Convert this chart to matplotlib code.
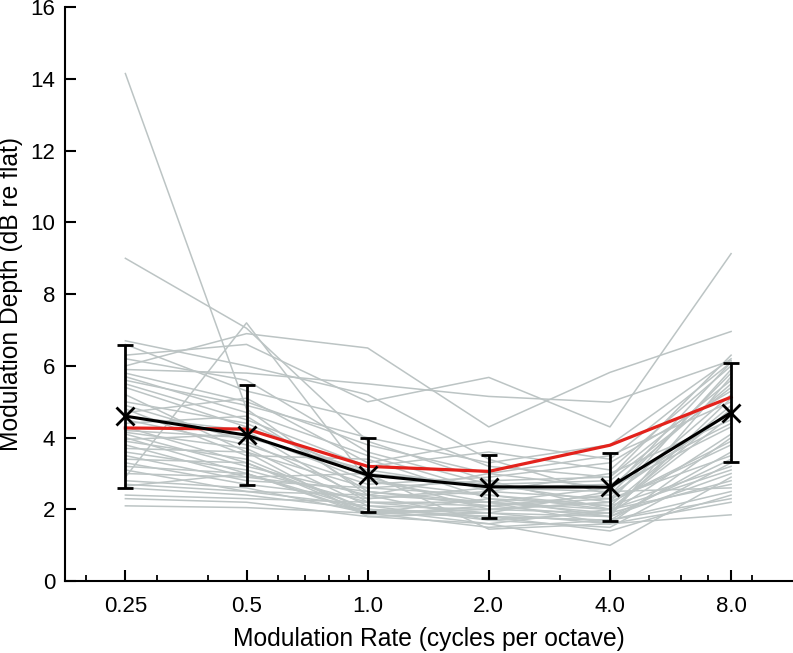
# modulation depth vs modulation rate: individual listeners plus summary lines

import matplotlib.pyplot as plt
from matplotlib.ticker import FixedLocator, LogLocator, NullFormatter
import numpy as np

plt.rcParams['font.family'] = ['Liberation Sans', 'DejaVu Sans']

rates = [0.25, 0.5, 1.0, 2.0, 4.0, 8.0]
rate_labels = ['0.25', '0.5', '1.0', '2.0', '4.0', '8.0']

# one row per listener, columns follow rates
listeners = [
    [14.15, 4.8, 2.4, 2.2, 2.0, 4.6],
    [9.0, 7.05, 3.9, 2.8, 2.9, 5.6],
    [6.0, 6.9, 6.5, 4.3, 5.82, 6.96],
    [2.9, 7.2, 2.8, 2.2, 1.9, 4.1],
    [6.3, 6.6, 5.0, 5.68, 4.3, 9.13],
    [5.9, 5.8, 5.5, 5.15, 4.99, 6.15],
    [6.7, 6.0, 5.2, 3.4, 2.4, 5.8],
    [6.6, 5.3, 4.5, 3.2, 2.9, 6.3],
    [5.8, 5.0, 3.8, 3.0, 2.6, 5.5],
    [5.7, 4.7, 3.5, 2.5, 2.3, 5.2],
    [5.5, 4.5, 3.2, 3.6, 3.1, 6.0],
    [5.4, 4.3, 3.0, 2.7, 2.2, 5.9],
    [5.2, 3.6, 2.6, 2.4, 2.1, 4.9],
    [5.0, 4.4, 2.9, 2.0, 1.9, 5.1],
    [4.9, 3.9, 2.3, 2.6, 2.7, 4.4],
    [4.8, 3.5, 3.4, 2.3, 1.8, 5.7],
    [4.6, 4.2, 2.2, 1.9, 1.6, 4.0],
    [4.5, 3.8, 2.7, 2.9, 3.3, 5.3],
    [4.4, 4.6, 2.5, 2.1, 2.4, 4.7],
    [4.3, 3.3, 2.0, 1.8, 1.7, 3.6],
    [4.2, 4.0, 3.1, 2.6, 2.5, 6.1],
    [4.15, 3.7, 2.1, 1.7, 1.5, 3.3],
    [4.1, 3.2, 2.4, 3.0, 3.5, 5.0],
    [4.0, 3.0, 1.9, 2.0, 2.2, 3.9],
    [3.95, 4.1, 2.8, 2.4, 2.0, 4.8],
    [3.9, 3.4, 2.0, 1.6, 1.0, 2.9],
    [3.8, 2.9, 2.5, 2.2, 2.6, 4.3],
    [3.7, 3.6, 1.8, 1.9, 1.8, 3.0],
    [3.6, 3.1, 2.2, 2.1, 2.3, 3.5],
    [3.5, 2.8, 2.6, 2.8, 2.0, 2.7],
    [3.4, 3.3, 1.9, 1.5, 1.7, 2.5],
    [3.3, 2.7, 2.3, 2.5, 3.0, 4.5],
    [3.2, 3.0, 2.0, 1.8, 1.4, 2.4],
    [3.1, 2.5, 2.1, 2.0, 2.2, 3.8],
    [3.0, 2.9, 3.0, 1.45, 1.6, 2.2],
    [2.8, 2.6, 1.9, 2.3, 2.1, 3.2],
    [2.7, 2.5, 2.4, 1.7, 1.9, 2.8],
    [2.65, 3.0, 1.85, 2.1, 1.8, 3.4],
    [2.6, 2.4, 2.0, 1.9, 2.5, 2.6],
    [2.4, 2.3, 2.2, 2.2, 1.6, 1.85],
    [2.3, 2.2, 1.8, 1.6, 2.0, 3.1],
    [2.1, 2.05, 1.9, 1.8, 1.7, 2.3],
    [5.6, 4.9, 4.0, 3.3, 3.8, 6.2],
    [6.2, 5.6, 3.6, 2.7, 2.8, 5.4],
    [4.7, 5.1, 3.3, 3.9, 3.4, 6.1],
]

red_line = [4.27, 4.24, 3.2, 3.06, 3.79, 5.13]
mean_depth = [4.6, 4.07, 2.96, 2.63, 2.62, 4.7]
err_depth = [1.99, 1.4, 1.03, 0.88, 0.95, 1.38]

fig = plt.figure(figsize=(7.93, 6.53), dpi=100)
ax = fig.add_axes([0.082, 0.11, 0.918, 0.879])

for row in listeners:
    ax.plot(rates, row, color='#bcc4c4', linewidth=1.1, zorder=1)

ax.plot(rates, red_line, color='#e3221c', linewidth=2.3, zorder=2)
ax.errorbar(rates, mean_depth, yerr=err_depth, color='black', linewidth=2.2,
            marker='x', markersize=13, markeredgewidth=2.0,
            capsize=6, capthick=2.0, elinewidth=2.0, zorder=3)

ax.set_xscale('log')
ax.set_xlim(0.177, 11.4)
ax.set_ylim(0, 16)
ax.xaxis.set_major_locator(FixedLocator(rates))
ax.set_xticklabels(rate_labels)
ax.xaxis.set_minor_locator(LogLocator(base=10, subs=np.arange(2, 10)))
ax.xaxis.set_minor_formatter(NullFormatter())
ax.set_yticks(np.arange(0, 17, 2))

ax.spines['top'].set_visible(False)
ax.spines['right'].set_visible(False)
ax.spines['left'].set_linewidth(1.5)
ax.spines['bottom'].set_linewidth(1.5)
ax.tick_params(axis='both', which='major', direction='in', length=8, width=1.5,
               labelsize=16)
ax.tick_params(axis='x', which='major', pad=11)
ax.tick_params(axis='y', which='major', pad=7)
ax.tick_params(axis='x', which='minor', direction='in', length=4.5, width=1.3)

ax.set_xlabel('Modulation Rate (cycles per octave)', fontsize=17.7)
ax.set_ylabel('Modulation Depth (dB re flat)', fontsize=17.7)
ax.xaxis.set_label_coords(0.5, -0.08)
ax.yaxis.set_label_coords(-0.058, 0.5)

fig.savefig('out.png', dpi=100)
